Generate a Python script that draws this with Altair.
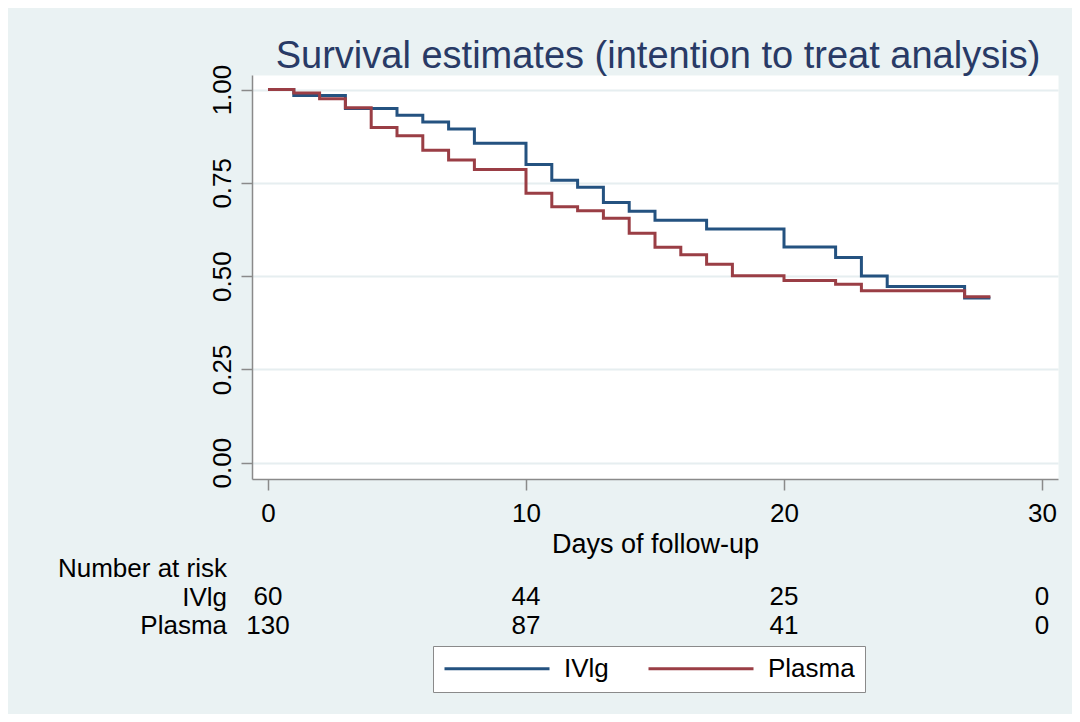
import altair as alt
import pandas as pd

# Kaplan-Meier step values
ivig_days = [0, 1, 3, 5, 6, 7, 8, 10, 11, 12, 13, 14, 15, 17, 20, 22, 23, 24, 27, 28]
ivig_surv = [1.0, 0.984, 0.949, 0.931, 0.913, 0.894, 0.856, 0.799, 0.757, 0.738, 0.697,
             0.674, 0.650, 0.626, 0.578, 0.550, 0.500, 0.472, 0.441, 0.441]
plasma_days = [0, 1, 2, 3, 4, 5, 6, 7, 8, 10, 11, 12, 13, 14, 15, 16, 17, 18, 20, 22, 23, 27, 28]
plasma_surv = [1.0, 0.991, 0.975, 0.951, 0.898, 0.876, 0.837, 0.811, 0.786, 0.722, 0.686,
               0.675, 0.655, 0.615, 0.577, 0.557, 0.532, 0.501, 0.488, 0.478, 0.461, 0.445, 0.445]

group_labels = ["IVlg", "Plasma"]
colors = ["#245280", "#9A3E45"]

risk_days = [0, 10, 20, 30]
risk_ivig = [60, 44, 25, 0]
risk_plasma = [130, 87, 41, 0]

x_ticks = [0, 10, 20, 30]
y_ticks = [0, 0.25, 0.5, 0.75, 1.0]

title_text = "Survival estimates (intention to treat analysis)"

FONT = "Liberation Sans"
FS = 26

df = pd.DataFrame(
    [{"day": d, "surv": s, "group": group_labels[0]} for d, s in zip(ivig_days, ivig_surv)]
    + [{"day": d, "surv": s, "group": group_labels[1]} for d, s in zip(plasma_days, plasma_surv)]
)

risk_iv_df = pd.DataFrame({"day": risk_days, "n": risk_ivig})
risk_pl_df = pd.DataFrame({"day": risk_days, "n": risk_plasma})
row_df = pd.DataFrame({"label": ["Number at risk", group_labels[0], group_labels[1]],
                       "row": [0, 1, 2]})
title_df = pd.DataFrame({"t": [title_text]})

xscale = alt.Scale(domain=[-0.62, 30.62], nice=False, zero=False)
yscale = alt.Scale(domain=[-0.0437, 1.0389], nice=False, zero=False)

lines = alt.Chart(df).mark_line(interpolate="step-after", strokeWidth=3).encode(
    x=alt.X("day:Q", scale=xscale,
            axis=alt.Axis(values=x_ticks, format="d", title="Days of follow-up",
                          grid=False, tickSize=11, tickColor="#8a8a8a", tickWidth=1.5,
                          domainColor="#8a8a8a", domainWidth=1.5,
                          labelFontSize=FS, labelFont=FONT, labelColor="black",
                          labelPadding=10, labelFlush=False, labelOverlap=False,
                          titleFontSize=27, titleFont=FONT, titleFontWeight="normal",
                          titleColor="black", titleY=73, titleBaseline="alphabetic")),
    y=alt.Y("surv:Q", scale=yscale,
            axis=alt.Axis(values=y_ticks, format=".2f", title="",
                          grid=True, gridColor="#E6EEF0", gridWidth=2,
                          tickSize=11, tickColor="#8a8a8a", tickWidth=1.5,
                          domainColor="#8a8a8a", domainWidth=1.5,
                          labelAngle=270, labelAlign="center", labelBaseline="alphabetic",
                          labelPadding=11, labelFontSize=FS, labelFont=FONT,
                          labelColor="black", labelFlush=False, labelOverlap=False)),
    color=alt.Color("group:N",
                    scale=alt.Scale(domain=group_labels, range=colors),
                    legend=alt.Legend(title=None, orient="none", legendX=181, legendY=571,
                                      direction="horizontal", columns=2,
                                      symbolType="stroke", symbolSize=11025,
                                      symbolStrokeWidth=3, clipHeight=25,
                                      labelFontSize=FS,
                                      labelFont=FONT, labelColor="black", labelOffset=13,
                                      columnPadding=38, padding=10, fillColor="white",
                                      strokeColor="#8a8a8a", cornerRadius=0)),
)

risk_iv = alt.Chart(risk_iv_df).mark_text(fontSize=FS, font=FONT, align="center",
                                          baseline="alphabetic", color="black").encode(
    x=alt.X("day:Q", scale=xscale), y=alt.value(530), text="n:Q")
risk_pl = alt.Chart(risk_pl_df).mark_text(fontSize=FS, font=FONT, align="center",
                                          baseline="alphabetic", color="black").encode(
    x=alt.X("day:Q", scale=xscale), y=alt.value(559), text="n:Q")

row_labels = alt.Chart(row_df).mark_text(fontSize=FS, font=FONT, align="right",
                                         baseline="alphabetic", color="black").encode(
    x=alt.value(-25),
    y=alt.Y("row:Q", scale=alt.Scale(domain=[0, 2], range=[502, 559]), axis=None),
    text="label:N")

title = alt.Chart(title_df).mark_text(fontSize=38, font=FONT, align="center",
                                      baseline="alphabetic", color="#283A66").encode(
    x=alt.value(406), y=alt.value(-7), text="t:N")

chart = alt.layer(lines, risk_iv, risk_pl, row_labels, title).resolve_scale(
    y="independent").properties(
    width=806, height=404,
    padding={"left": 244, "top": 67, "right": 14, "bottom": 235},
    autosize=alt.AutoSizeParams(type="none"),
    background="#EAF2F3",
).configure_view(fill="white", stroke="transparent")

chart.save("out.html", embed_options={"renderer": "svg", "actions": False})
